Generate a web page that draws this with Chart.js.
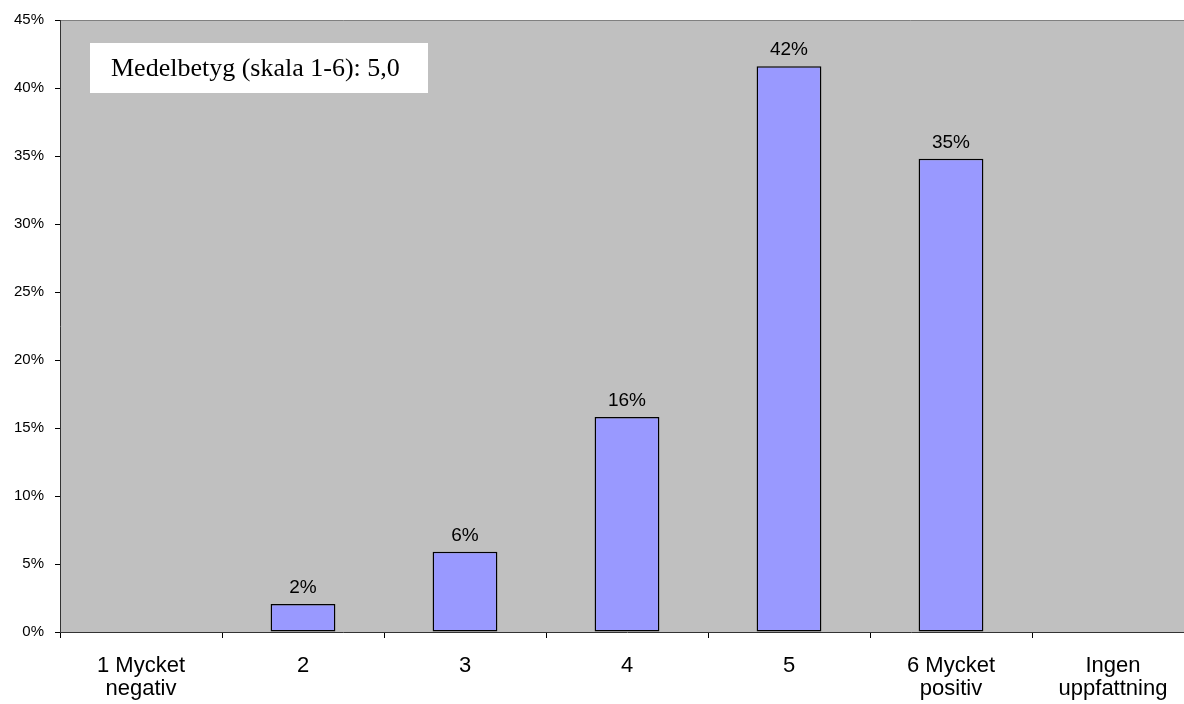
<!DOCTYPE html>
<html>
<head>
<meta charset="utf-8">
<script src="https://cdn.jsdelivr.net/npm/chart.js@4"></script>
<style>
  html, body { margin: 0; padding: 0; background: #fff; overflow: hidden; }
  #wrap { width: 1194px; height: 704px; position: relative; }
</style>
</head>
<body>
<div id="wrap"><canvas id="chart"></canvas></div>
<script>
var categories = [["1 Mycket", "negativ"], "2", "3", "4", "5", ["6 Mycket", "positiv"], ["Ingen", "uppfattning"]];
var values = [0, 2.05, 5.9, 15.8, 41.6, 34.8, 0];
var valueLabels = ["", "2%", "6%", "16%", "42%", "35%", ""];
var yMax = 45;
var yStep = 5;
var noteText = "Medelbetyg (skala 1-6): 5,0";

// grey plot area + top border
var plotBg = {
  id: 'plotBg',
  beforeDraw: function(chart) {
    var a = chart.chartArea, ctx = chart.ctx;
    ctx.save();
    ctx.fillStyle = '#c0c0c0';
    ctx.fillRect(a.left, a.top, a.right - a.left, a.bottom - a.top);
    ctx.strokeStyle = '#808080';
    ctx.lineWidth = 1;
    ctx.beginPath();
    ctx.moveTo(a.left, a.top + 0.5);
    ctx.lineTo(a.right, a.top + 0.5);
    ctx.stroke();
    ctx.restore();
  }
};

// value labels above bars and the note box
var labelsAndNote = {
  id: 'labelsAndNote',
  afterDatasetsDraw: function(chart) {
    var ctx = chart.ctx;
    var a = chart.chartArea;
    var meta = chart.getDatasetMeta(0);
    ctx.save();
    ctx.font = '19px "Liberation Sans", Arial, sans-serif';
    ctx.fillStyle = '#000';
    ctx.textAlign = 'center';
    ctx.textBaseline = 'middle';
    meta.data.forEach(function(bar, i) {
      if (valueLabels[i]) ctx.fillText(valueLabels[i], bar.x, bar.y - 16);
    });

    // note box
    var bx = a.left + 30, by = a.top + 23, bw = 338, bh = 50;
    ctx.fillStyle = '#fff';
    ctx.fillRect(bx, by, bw, bh);
    ctx.fillStyle = '#000';
    ctx.font = '26px "Liberation Serif", "Times New Roman", serif';
    ctx.textAlign = 'left';
    ctx.fillText(noteText, bx + 21, by + bh / 2 + 1);
    ctx.restore();
  }
};

var ctx = document.getElementById('chart').getContext('2d');
var outChart = new Chart(ctx, {
  type: 'bar',
  data: {
    labels: categories,
    datasets: [{
      data: values,
      backgroundColor: '#9999ff',
      borderColor: '#000',
      borderWidth: 1.5,
      borderSkipped: false,
      categoryPercentage: 0.4,
      barPercentage: 1
    }]
  },
  options: {
    responsive: true,
    maintainAspectRatio: false,
    animation: false,
    layout: { padding: { top: 19, right: 0, left: 0, bottom: 0 } },
    plugins: {
      legend: { display: false },
      tooltip: { enabled: false }
    },
    scales: {
      x: {
        grid: {
          offset: true,
          drawOnChartArea: false,
          tickLength: 6,
          color: '#000'
        },
        border: { color: '#333', width: 1 },
        ticks: {
          color: '#000',
          padding: 16,
          maxRotation: 0,
          autoSkip: false,
          font: { family: '"Liberation Sans", Arial, sans-serif', size: 22, lineHeight: 1.05 }
        },
        afterFit: function(scale) { scale.height = 72; }
      },
      y: {
        min: 0,
        max: yMax,
        grid: {
          drawOnChartArea: false,
          tickLength: 5,
          color: '#000'
        },
        border: { color: '#333', width: 1 },
        ticks: {
          stepSize: yStep,
          color: '#000',
          padding: 11,
          font: { family: '"Liberation Sans", Arial, sans-serif', size: 15 },
          callback: function(v) { return v + '%'; }
        },
        afterFit: function(scale) { scale.width = 60; }
      }
    }
  },
  plugins: [plotBg, labelsAndNote]
});
</script>
</body>
</html>
